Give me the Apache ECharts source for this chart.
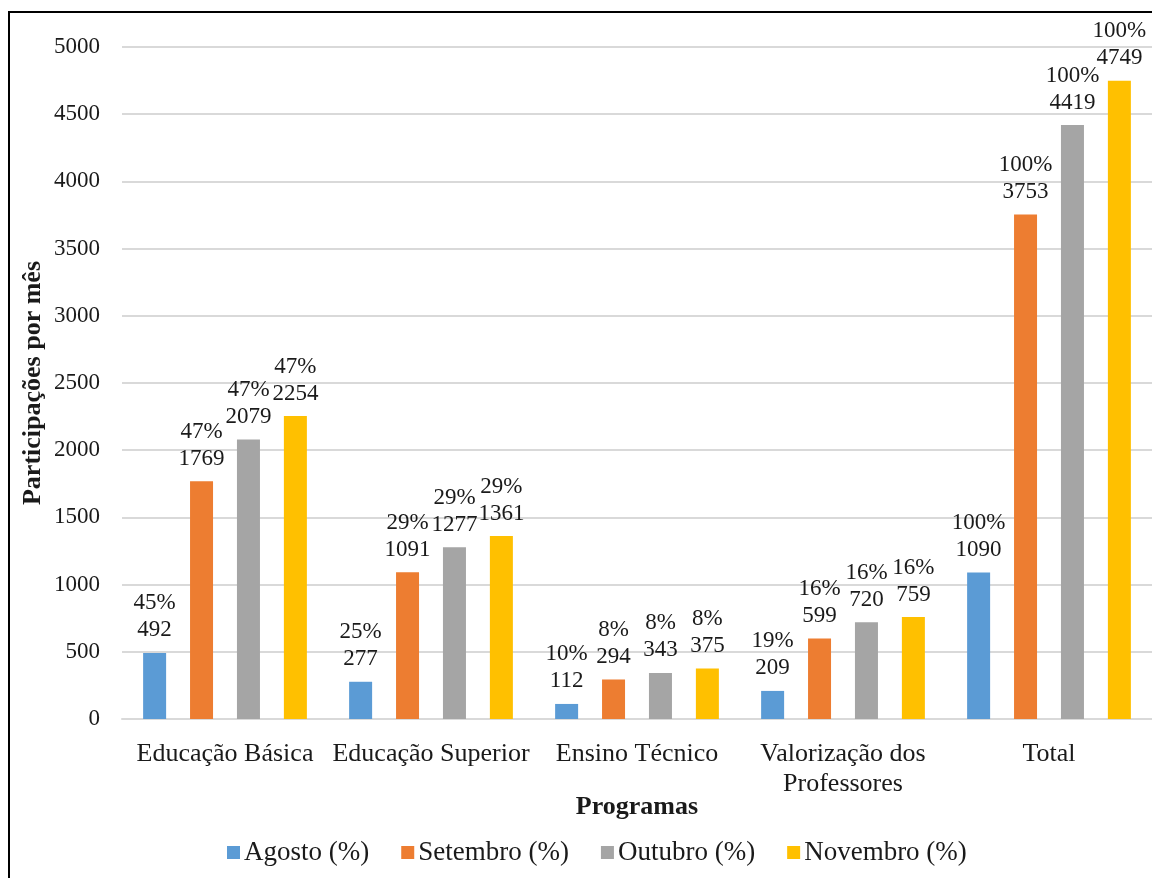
<!DOCTYPE html>
<html>
<head>
<meta charset="utf-8">
<script src="https://cdn.jsdelivr.net/npm/echarts@6/dist/echarts.min.js"></script>
<style>
  html, body { margin: 0; padding: 0; background: #fff; }
  #chart { width: 1152px; height: 878px; }
  #frame { position: absolute; left: 8px; top: 11px; width: 1160px; height: 900px;
           border: 2px solid #000; box-sizing: border-box; pointer-events: none; }
</style>
</head>
<body>
<div id="chart"></div>
<div id="frame"></div>
<script>
// Programas e participações mensais
const categories = ['Educação Básica', 'Educação Superior', 'Ensino Técnico', 'Valorização dos\nProfessores', 'Total'];
const seriesNames = ['Agosto (%)', 'Setembro (%)', 'Outubro (%)', 'Novembro (%)'];
const agosto = [492, 277, 112, 209, 1090];
const setembro = [1769, 1091, 294, 599, 3753];
const outubro = [2079, 1277, 343, 720, 4419];
const novembro = [2254, 1361, 375, 759, 4749];
const agostoPct = [45, 25, 10, 19, 100];
const setembroPct = [47, 29, 8, 16, 100];
const outubroPct = [47, 29, 8, 16, 100];
const novembroPct = [47, 29, 8, 16, 100];
const yTicks = [0, 500, 1000, 1500, 2000, 2500, 3000, 3500, 4000, 4500, 5000];

const colors = ['#5b9bd5', '#ed7d31', '#a5a5a5', '#ffc000'];
const values = [agosto, setembro, outubro, novembro];
const pcts = [agostoPct, setembroPct, outubroPct, novembroPct];
const serif = '"Liberation Serif", "DejaVu Serif", serif';
const ink = '#1a1a1a';

const chart = echarts.init(document.getElementById('chart'));
chart.setOption({
  animation: false,
  textStyle: { fontFamily: serif, color: ink },
  grid: { left: 122, right: 0, top: 47, bottom: 159 },
  legend: {
    left: 222, top: 834,
    itemWidth: 13, itemHeight: 13, itemGap: 32,
    icon: 'rect',
    textStyle: { fontFamily: serif, fontSize: 27, color: ink, padding: [0, 0, 0, -1] },
    data: seriesNames
  },
  xAxis: {
    type: 'category',
    data: categories,
    name: 'Programas',
    nameLocation: 'middle',
    nameGap: 75,
    nameMoveOverlap: false,
    nameTextStyle: { fontFamily: serif, fontSize: 26, fontWeight: 'bold', color: ink },
    axisLine: { lineStyle: { color: '#d9d9d9', width: 2 } },
    axisTick: { show: false },
    axisLabel: { fontFamily: serif, fontSize: 26, color: ink, margin: 20, lineHeight: 30, interval: 0 }
  },
  yAxis: {
    type: 'value',
    min: 0, max: 5000, interval: 500,
    name: 'Participações por mês',
    nameLocation: 'middle',
    nameGap: 76,
    nameRotate: 90,
    nameMoveOverlap: false,
    nameTextStyle: { fontFamily: serif, fontSize: 26, fontWeight: 'bold', color: ink },
    axisLine: { show: false },
    axisTick: { show: false },
    splitLine: { lineStyle: { color: '#d9d9d9', width: 2 } },
    axisLabel: {
      fontFamily: serif, fontSize: 23, color: ink, margin: 22,
      formatter: v => (yTicks.includes(v) ? String(v) : '')
    }
  },
  series: seriesNames.map((name, i) => ({
    name,
    type: 'bar',
    barWidth: 23,
    barGap: '104%',
    itemStyle: { color: colors[i] },
    data: values[i],
    label: {
      show: true,
      position: 'top',
      distance: 9,
      fontFamily: serif,
      fontSize: 23,
      lineHeight: 27,
      color: ink,
      formatter: p => pcts[i][p.dataIndex] + '%\n' + p.value
    }
  }))
});
</script>
</body>
</html>
